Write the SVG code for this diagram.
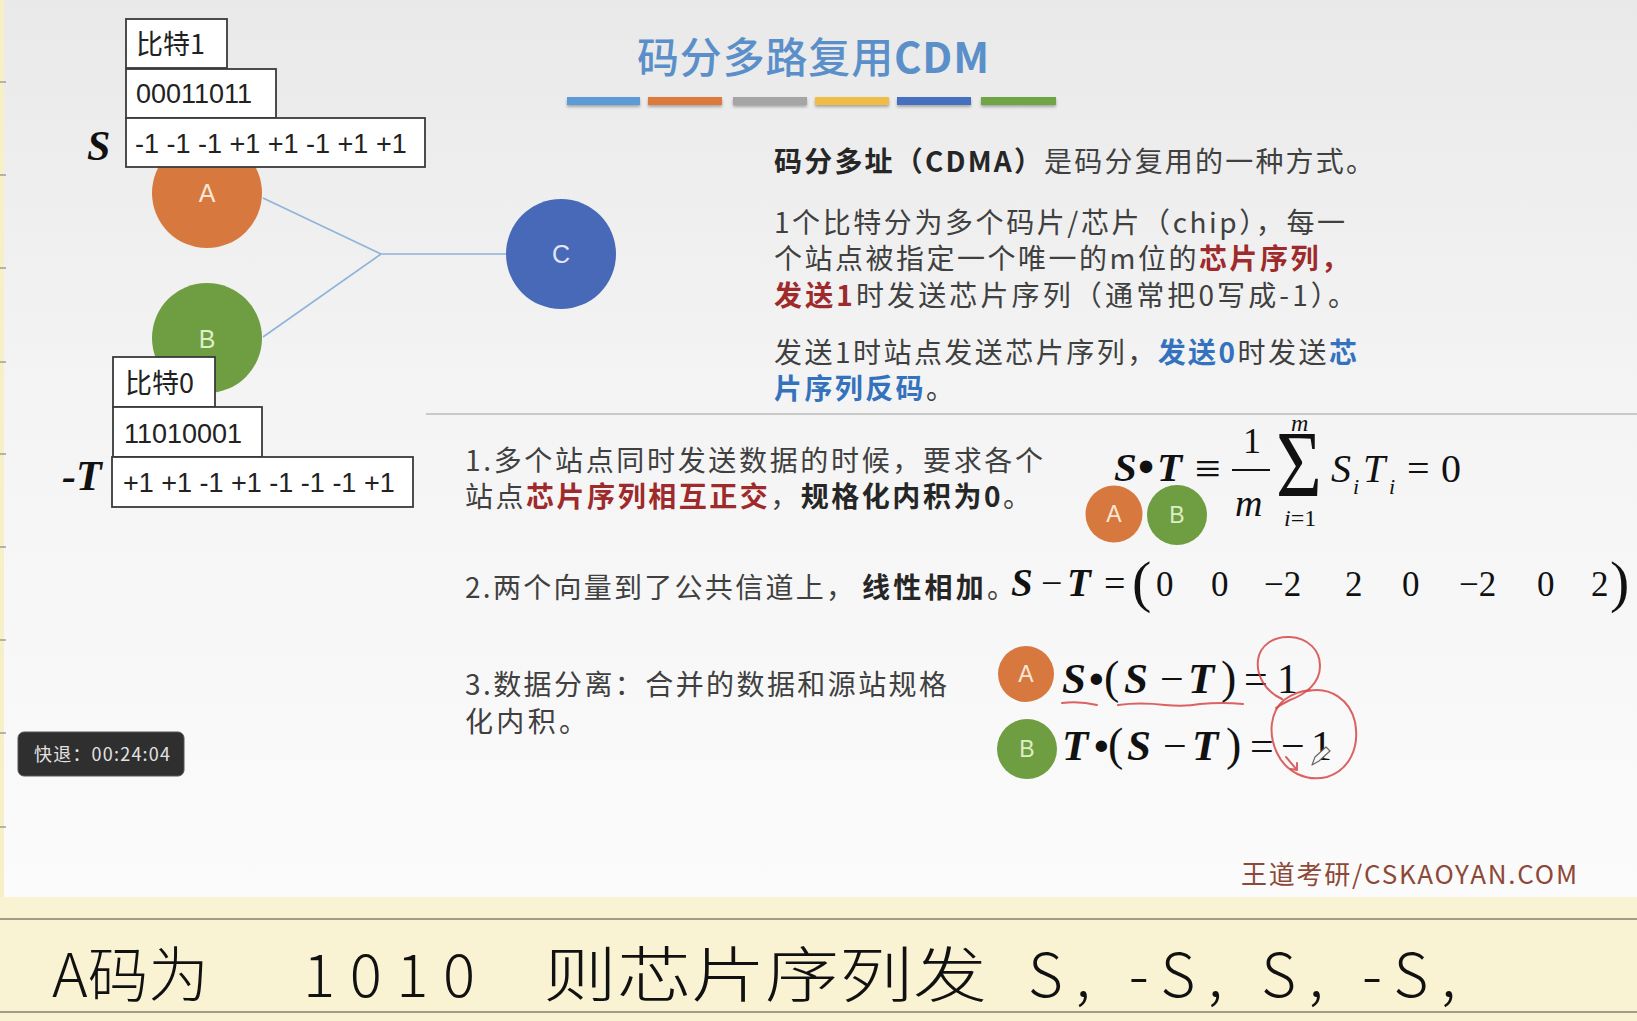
<svg xmlns="http://www.w3.org/2000/svg" width="1637" height="1021" viewBox="0 0 1637 1021">
<defs>
<linearGradient id="bg" x1="0" y1="0" x2="0" y2="1">
<stop offset="0" stop-color="#e9e9e9"/>
<stop offset="0.45" stop-color="#f4f4f4"/>
<stop offset="1" stop-color="#fbfbfb"/>
</linearGradient>
<filter id="sh" x="-10%" y="-50%" width="120%" height="250%">
<feDropShadow dx="0" dy="2" stdDeviation="1.5" flood-color="#000" flood-opacity="0.3"/>
</filter>
<style>
.cjk{font-family:"Noto Sans CJK SC","Noto Sans",sans-serif;}
.lat{font-family:"Liberation Sans",Arial,sans-serif;}
.m{font-family:"Liberation Serif","DejaVu Serif",serif;fill:#111;}
.bi{font-weight:bold;font-style:italic;}
.it{font-style:italic;}
.body{font-size:28px;fill:#404040;}
.b{font-weight:bold;fill:#262626;}
.red{font-weight:bold;fill:#9e2a2b;}
.blue{font-weight:bold;fill:#3572bd;}
.box{fill:#fff;stroke:#3a3a3a;stroke-width:1.8;}
.boxt{font-size:27px;fill:#222;}
.lbl{font-family:"Liberation Sans",Arial,sans-serif;text-anchor:middle;}
.conn{stroke:#8fb3d9;stroke-width:1.6;fill:none;}
.ink{stroke:#d64848;stroke-width:2;fill:none;stroke-linecap:round;stroke-linejoin:round;opacity:0.85;}
.hand{font-family:"Noto Sans CJK SC",sans-serif;font-size:60px;fill:#111;font-weight:300;}
</style>
</defs>

<!-- backgrounds -->
<rect x="0" y="0" width="1637" height="897" fill="url(#bg)"/>
<rect x="0" y="0" width="4" height="897" fill="#f6efc8"/>
<g stroke="#8a8a8a" stroke-width="1.2">
<line x1="0" y1="82" x2="6" y2="82"/><line x1="0" y1="175" x2="6" y2="175"/><line x1="0" y1="268" x2="6" y2="268"/>
<line x1="0" y1="362" x2="6" y2="362"/><line x1="0" y1="454" x2="6" y2="454"/><line x1="0" y1="547" x2="6" y2="547"/>
<line x1="0" y1="640" x2="6" y2="640"/><line x1="0" y1="733" x2="6" y2="733"/><line x1="0" y1="827" x2="6" y2="827"/>
</g>
<rect x="0" y="897" width="1637" height="124" fill="#f9f3d4"/>
<line x1="0" y1="919" x2="1637" y2="919" stroke="#a39d88" stroke-width="2"/>
<line x1="0" y1="1012" x2="1637" y2="1012" stroke="#a39d88" stroke-width="2"/>

<!-- title -->
<text class="cjk" x="637" y="73" font-size="42" font-weight="500" fill="#5b8fc9" textLength="352">码分多路复用<tspan font-weight="bold">CDM</tspan></text>
<g filter="url(#sh)">
<rect x="567" y="97" width="73" height="8" fill="#5b9bd5"/>
<rect x="648" y="97" width="74" height="8" fill="#dd7a3a"/>
<rect x="733" y="97" width="74" height="8" fill="#a5a5a5"/>
<rect x="815" y="97" width="74" height="8" fill="#efbc45"/>
<rect x="897" y="97" width="74" height="8" fill="#4470c0"/>
<rect x="981" y="97" width="75" height="8" fill="#70a545"/>
</g>

<!-- connectors -->
<g id="connectors">
<polyline class="conn" points="263,198 381,254"/>
<polyline class="conn" points="263,337 381,254"/>
<polyline class="conn" points="381,254 506,254"/>
</g>

<!-- nodes -->
<g id="node-A">
<circle cx="207" cy="193" r="55" fill="#d7793e"/>
<text class="lbl" x="207" y="202" font-size="25" fill="#f7e6d8">A</text>
</g>
<g id="node-B">
<circle cx="207" cy="338" r="55" fill="#6f9d41"/>
<text class="lbl" x="207" y="348" font-size="25" fill="#dcefc6">B</text>
</g>
<g id="node-C">
<circle cx="561" cy="254" r="55" fill="#4769b8"/>
<text class="lbl" x="561" y="263" font-size="25" fill="#e0e7f6">C</text>
</g>

<!-- S code boxes -->
<g id="S-code">
<rect class="box" x="126" y="19" width="101" height="49"/>
<text class="cjk boxt" x="136" y="54" font-size="29">比特1</text>
<rect class="box" x="126" y="69" width="150" height="49"/>
<text class="lat boxt" x="136" y="103">00011011</text>
<rect class="box" x="126" y="118" width="299" height="49"/>
<text class="lat boxt" x="135" y="153">-1 -1 -1 +1 +1 -1 +1 +1</text>
<text class="m bi" x="87" y="160" font-size="42">S</text>
</g>

<!-- -T code boxes -->
<g id="T-code">
<rect class="box" x="113" y="357" width="102" height="50"/>
<text class="cjk boxt" x="125" y="393" font-size="29">比特0</text>
<rect class="box" x="113" y="407" width="149" height="50"/>
<text class="lat boxt" x="124" y="443">11010001</text>
<rect class="box" x="112" y="457" width="301" height="50"/>
<text class="lat boxt" x="123" y="492">+1 +1 -1 +1 -1 -1 -1 +1</text>
<text class="m bi" x="62" y="490" font-size="42">-T</text>
</g>

<!-- right description -->
<g id="desc">
<text class="cjk body" x="774" y="172" textLength="600"><tspan class="b">码分多址（CDMA）</tspan>是码分复用的一种方式。</text>
<text class="cjk body" x="774" y="233" textLength="571">1个比特分为多个码片/芯片（chip），每一</text>
<text class="cjk body" x="774" y="269" textLength="575">个站点被指定一个唯一的m位的<tspan class="red">芯片序列，</tspan></text>
<text class="cjk body" x="774" y="306" textLength="582"><tspan class="red">发送1</tspan>时发送芯片序列（通常把0写成-1）。</text>
<text class="cjk body" x="774" y="363" textLength="583">发送1时站点发送芯片序列，<tspan class="blue">发送0</tspan>时发送<tspan class="blue">芯</tspan></text>
<text class="cjk body" x="774" y="399" textLength="180"><tspan class="blue">片序列反码</tspan>。</text>
</g>

<line x1="426" y1="414" x2="1637" y2="414" stroke="#c9c9c9" stroke-width="2"/>

<!-- items -->
<g id="items">
<text class="cjk body" x="465" y="471" textLength="578">1.多个站点同时发送数据的时候，要求各个</text>
<text class="cjk body" x="465" y="507" textLength="566">站点<tspan class="red">芯片序列相互正交</tspan>，<tspan class="b">规格化内积为0</tspan>。</text>
<text class="cjk body" x="465" y="598" textLength="389">2.两个向量到了公共信道上，</text>
<text class="cjk body" x="862" y="598" textLength="153"><tspan class="b">线性相加</tspan>。</text>
<text class="cjk body" x="465" y="695" textLength="482">3.数据分离：合并的数据和源站规格</text>
<text class="cjk body" x="465" y="732" textLength="122">化内积。</text>
</g>

<!-- formula 1 -->
<g id="formula1">
<text class="m bi" x="1114" y="481" font-size="41">S</text>
<text class="m" x="1138" y="482" font-size="46" font-weight="bold">•</text>
<text class="m bi" x="1157" y="481" font-size="41">T</text>
<text class="m" x="1195" y="484" font-size="46">≡</text>
<text class="m" x="1243" y="453" font-size="36">1</text>
<line x1="1232" y1="470" x2="1270" y2="470" stroke="#111" stroke-width="2"/>
<text class="m it" x="1235" y="516" font-size="38">m</text>
<text class="m" transform="translate(1276,497) scale(0.82,1)" font-size="96">Σ</text>
<text class="m it" x="1291" y="431" font-size="24">m</text>
<text class="m" x="1284" y="526" font-size="24"><tspan font-style="italic">i</tspan>=1</text>
<text class="m it" x="1331" y="482" font-size="40">S</text>
<text class="m it" x="1353" y="494" font-size="22">i</text>
<text class="m it" x="1363" y="482" font-size="40">T</text>
<text class="m it" x="1389" y="494" font-size="22">i</text>
<text class="m" x="1407" y="482" font-size="40">=</text>
<text class="m" x="1441" y="482" font-size="40">0</text>
</g>
<g id="node-A2">
<circle cx="1114" cy="514" r="28.5" fill="#d7793e"/>
<text class="lbl" x="1114" y="522" font-size="23" fill="#f7e6d8">A</text>
</g>
<g id="node-B2">
<circle cx="1177" cy="515" r="30" fill="#6f9d41"/>
<text class="lbl" x="1177" y="523" font-size="23" fill="#dcefc6">B</text>
</g>

<!-- formula 2 -->
<g id="formula2">
<text class="m bi" x="1011" y="596" font-size="39">S</text>
<text class="m" x="1041" y="596" font-size="38">−</text>
<text class="m bi" x="1067" y="596" font-size="39">T</text>
<text class="m" x="1104" y="596" font-size="38">=</text>
<text class="m" x="1132" y="601" font-size="58">(</text>
<text class="m" font-size="35" y="596"><tspan x="1156">0</tspan><tspan x="1211">0</tspan><tspan x="1264">−2</tspan><tspan x="1345">2</tspan><tspan x="1402">0</tspan><tspan x="1459">−2</tspan><tspan x="1537">0</tspan><tspan x="1591">2</tspan></text>
<text class="m" x="1610" y="601" font-size="58">)</text>
</g>

<!-- formula 3 -->
<g id="node-A3">
<circle cx="1026" cy="674" r="28" fill="#d7793e"/>
<text class="lbl" x="1026" y="682" font-size="23" fill="#f7e6d8">A</text>
</g>
<g id="node-B3">
<circle cx="1027" cy="749" r="30" fill="#6f9d41"/>
<text class="lbl" x="1027" y="757" font-size="23" fill="#dcefc6">B</text>
</g>
<g id="formula3">
<text class="m bi" x="1062" y="693" font-size="43">S</text>
<text class="m" x="1089" y="693" font-size="42" font-weight="bold">•</text>
<text class="m" x="1104" y="693" font-size="46">(</text>
<text class="m bi" x="1124" y="693" font-size="43">S</text>
<text class="m" x="1160" y="693" font-size="42">−</text>
<text class="m bi" x="1188" y="693" font-size="43">T</text>
<text class="m" x="1221" y="693" font-size="46">)</text>
<text class="m" x="1244" y="693" font-size="42">=</text>
<text class="m" x="1277" y="693" font-size="42">1</text>

<text class="m bi" x="1062" y="760" font-size="43">T</text>
<text class="m" x="1094" y="760" font-size="42" font-weight="bold">•</text>
<text class="m" x="1108" y="760" font-size="46">(</text>
<text class="m bi" x="1127" y="760" font-size="43">S</text>
<text class="m" x="1163" y="760" font-size="42">−</text>
<text class="m bi" x="1192" y="760" font-size="43">T</text>
<text class="m" x="1226" y="760" font-size="46">)</text>
<text class="m" x="1250" y="760" font-size="42">=</text>
<text class="m" x="1281" y="760" font-size="42">−</text>
<text class="m" x="1311" y="760" font-size="42">1</text>
</g>

<!-- red pen annotations -->
<g id="annotations">
<path class="ink" d="M1062,703 Q1080,701 1097,705"/>
<path class="ink" d="M1118,705 Q1140,702 1165,705 Q1185,707 1200,704 Q1222,702 1243,704"/>
<path class="ink" d="M1282,699 C1266,692 1256,676 1258,660 C1260,645 1274,636 1290,637 C1308,638 1320,650 1320,666 C1320,683 1306,694 1290,700 C1284,703 1280,705 1276,708"/>
<path class="ink" d="M1308,691 C1330,686 1350,700 1355,722 C1360,748 1349,770 1327,777 C1306,782 1286,772 1277,753 C1268,734 1270,712 1284,700 C1292,694 1300,691 1310,690"/>
<path class="ink" d="M1286,757 L1297,770 M1297,770 L1291,769 M1297,770 L1297,763"/>
<path d="M1312,765 L1315,757 L1326,747 L1330,751 L1319,761 Z M1312,765 L1319,761" fill="#fafafa" stroke="#666" stroke-width="1.2" stroke-linejoin="round"/>
</g>

<!-- watermark -->
<text class="cjk" x="1241" y="884" font-size="26" fill="#8e4838" textLength="336">王道考研/CSKAOYAN.COM</text>

<!-- timer -->
<g id="timer">
<rect x="18" y="732" width="166" height="44" rx="6" fill="#2f2f2f" stroke="#555" stroke-width="1"/>
<text class="cjk" x="34" y="761" font-size="18" fill="#e2e2e2" textLength="136">快退：00:24:04</text>
</g>

<!-- handwriting -->
<g id="handwriting">
<text class="hand" x="52" y="997" textLength="157" lengthAdjust="spacingAndGlyphs">A码为</text>
<text class="hand" x="303" y="997" textLength="172">1010</text>
<text class="hand" x="543" y="997" textLength="444" lengthAdjust="spacingAndGlyphs">则芯片序列发</text>
<text class="hand" x="1028" y="997" textLength="428">S, -S, S, -S,</text>
</g>
</svg>
